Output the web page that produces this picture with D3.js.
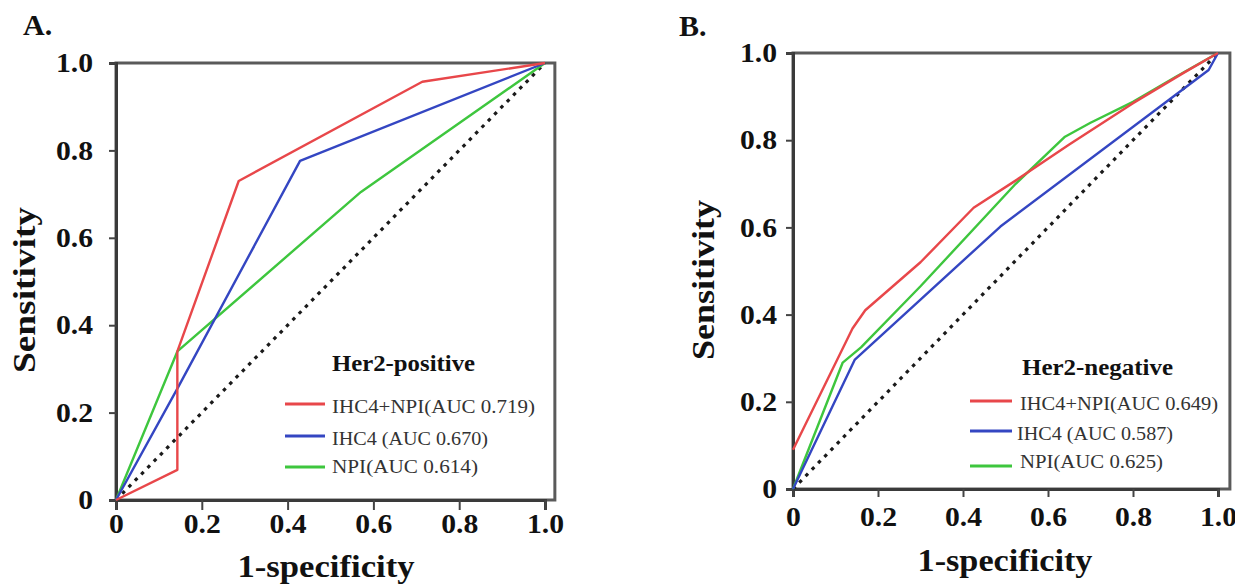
<!DOCTYPE html>
<html>
<head>
<meta charset="utf-8">
<script src="https://cdn.jsdelivr.net/npm/d3@7"></script>
<style>
  body { margin: 0; background: #fff; }
  svg { display: block; }
</style>
</head>
<body>
<div id="chart"></div>
<script>
// ---- dados ----
const tickValues = [0, 0.2, 0.4, 0.6, 0.8, 1.0];
const seriesColors = ["#e8474a", "#3446c2", "#3ec63e"];
const refLine = [[0, 0], [1, 1]];

// Her2-positive
const posLegend = ["IHC4+NPI(AUC 0.719)", "IHC4 (AUC 0.670)", "NPI(AUC 0.614)"];
const posIhc4Npi = [[0, 0], [0.143, 0.069], [0.143, 0.34], [0.286, 0.73], [0.714, 0.957], [1, 1]];
const posIhc4 = [[0, 0], [0.143, 0.255], [0.429, 0.776], [1, 1]];
const posNpi = [[0, 0], [0.143, 0.34], [0.571, 0.705], [1, 1]];

// Her2-negative
const negLegend = ["IHC4+NPI(AUC 0.649)", "IHC4 (AUC 0.587)", "NPI(AUC 0.625)"];
const negIhc4Npi = [[0, 0.09], [0.14, 0.368], [0.17, 0.41], [0.30, 0.52], [0.425, 0.645], [0.52, 0.705],
                    [0.65, 0.79], [0.80, 0.885], [0.92, 0.955], [1, 1]];
const negIhc4 = [[0, 0], [0.145, 0.296], [0.488, 0.602], [0.978, 0.961], [1, 1]];
const negNpi = [[0, 0], [0.117, 0.29], [0.16, 0.325], [0.30, 0.465], [0.524, 0.70], [0.64, 0.808],
                [0.70, 0.84], [0.80, 0.888], [0.90, 0.945], [1, 1]];

// ---- layout ----
const width = 1235, height = 585;
const serif = "'Liberation Serif', 'Times New Roman', serif";

const panels = [
  {
    letter: "A.", letterX: 23, letterY: 35,
    x0: 116, x1: 545, xEnd: 1.023, y0: 500, y1: 63,
    xTickSize: 10, xTickPad: 4, yTickSize: 7, yTickPad: 16,
    yTitle: { x: 35, y: 290, len: 166 }, xTitle: { x: 326, y: 577, len: 177 },
    title: "Her2-positive", titleX: 332, titleY: 371, titleLen: 143,
    legend: posLegend, series: [posIhc4Npi, posIhc4, posNpi],
    lineX: [285, 325], textX: [332, 332, 332],
    lineY: [404, 436, 467], textY: [413, 445, 473], textLen: [203, 156, 146]
  },
  {
    letter: "B.", letterX: 679, letterY: 36,
    x0: 793, x1: 1218, xEnd: 1.028, y0: 489, y1: 53,
    xTickSize: 8, xTickPad: 10, yTickSize: 7, yTickPad: 9,
    yTitle: { x: 714, y: 280, len: 160 }, xTitle: { x: 1005, y: 571, len: 175 },
    title: "Her2-negative", titleX: 1022, titleY: 375, titleLen: 151,
    legend: negLegend, series: [negIhc4Npi, negIhc4, negNpi],
    lineX: [970, 1012], textX: [1020, 1017, 1020],
    lineY: [401, 431, 466], textY: [410, 440, 468], textLen: [198, 156, 143]
  }
];

const svg = d3.select("#chart").append("svg")
  .attr("width", width)
  .attr("height", height)
  .attr("viewBox", `0 0 ${width} ${height}`);

// alarga um pouco o texto (a fonte original é mais larga)
function stretch(sel, factor) {
  sel.each(function() {
    const len = this.getComputedTextLength();
    d3.select(this).attr("textLength", len * factor).attr("lengthAdjust", "spacingAndGlyphs");
  });
}

panels.forEach(p => {
  const g = svg.append("g");

  const x = d3.scaleLinear().domain([0, 1]).range([p.x0, p.x1]);
  const y = d3.scaleLinear().domain([0, 1]).range([p.y0, p.y1]);
  const fmt = d => d === 0 ? "0" : d.toFixed(1);

  // moldura
  g.append("rect")
    .attr("x", x(0)).attr("y", y(1))
    .attr("width", x(p.xEnd) - x(0)).attr("height", y(0) - y(1))
    .attr("fill", "none").attr("stroke", "#5a5a5a").attr("stroke-width", 3);

  // eixos
  const xAxis = g.append("g")
    .attr("transform", `translate(0,${y(0)})`)
    .call(d3.axisBottom(x).tickValues(tickValues).tickFormat(fmt)
      .tickSize(p.xTickSize).tickPadding(p.xTickPad));
  const yAxis = g.append("g")
    .attr("transform", `translate(${x(0)},0)`)
    .call(d3.axisLeft(y).tickValues(tickValues).tickFormat(fmt)
      .tickSize(p.yTickSize).tickPadding(p.yTickPad));

  [xAxis, yAxis].forEach(ax => {
    ax.select(".domain").attr("stroke", "#3a3a3a").attr("stroke-width", 3);
    ax.selectAll(".tick line").attr("stroke", "#444").attr("stroke-width", 2);
    ax.selectAll(".tick text")
      .attr("fill", "#111")
      .style("font-family", serif)
      .style("font-weight", "bold")
      .style("font-size", "27px")
      .call(stretch, 1.1);
  });

  // linha de referência
  const line = d3.line().x(d => x(d[0])).y(d => y(d[1]));
  g.append("path")
    .datum(refLine)
    .attr("d", line)
    .attr("fill", "none")
    .attr("stroke", "#1a1a1a")
    .attr("stroke-width", 3.2)
    .attr("stroke-dasharray", "3.5,5.5");

  // curvas ROC (desenha NPI, IHC4, depois IHC4+NPI por cima)
  [2, 1, 0].forEach(i => {
    g.append("path")
      .datum(p.series[i])
      .attr("d", line)
      .attr("fill", "none")
      .attr("stroke", seriesColors[i])
      .attr("stroke-width", 2.4)
      .attr("stroke-linejoin", "round");
  });

  // títulos dos eixos
  g.append("text")
    .attr("transform", `translate(${p.yTitle.x},${p.yTitle.y}) rotate(-90)`)
    .attr("text-anchor", "middle")
    .attr("textLength", p.yTitle.len).attr("lengthAdjust", "spacingAndGlyphs")
    .style("font-family", serif).style("font-weight", "bold").style("font-size", "32px")
    .attr("fill", "#111")
    .text("Sensitivity");

  g.append("text")
    .attr("x", p.xTitle.x).attr("y", p.xTitle.y)
    .attr("text-anchor", "middle")
    .attr("textLength", p.xTitle.len).attr("lengthAdjust", "spacingAndGlyphs")
    .style("font-family", serif).style("font-weight", "bold").style("font-size", "32px")
    .attr("fill", "#111")
    .text("1-specificity");

  // letra do painel
  g.append("text")
    .attr("x", p.letterX).attr("y", p.letterY)
    .style("font-family", serif).style("font-weight", "bold").style("font-size", "30px")
    .attr("fill", "#111")
    .text(p.letter);

  // legenda
  g.append("text")
    .attr("x", p.titleX).attr("y", p.titleY)
    .attr("textLength", p.titleLen).attr("lengthAdjust", "spacingAndGlyphs")
    .style("font-family", serif).style("font-weight", "bold").style("font-size", "24px")
    .attr("fill", "#111")
    .text(p.title);

  const items = g.selectAll(".leg")
    .data(p.legend)
    .enter().append("g").attr("class", "leg");

  items.append("line")
    .attr("x1", p.lineX[0]).attr("x2", p.lineX[1])
    .attr("y1", (d, i) => p.lineY[i]).attr("y2", (d, i) => p.lineY[i])
    .attr("stroke", (d, i) => seriesColors[i])
    .attr("stroke-width", 3);

  items.append("text")
    .attr("x", (d, i) => p.textX[i])
    .attr("y", (d, i) => p.textY[i])
    .attr("textLength", (d, i) => p.textLen[i]).attr("lengthAdjust", "spacingAndGlyphs")
    .style("font-family", serif).style("font-size", "18px")
    .attr("fill", "#333")
    .text(d => d);
});
</script>
</body>
</html>
